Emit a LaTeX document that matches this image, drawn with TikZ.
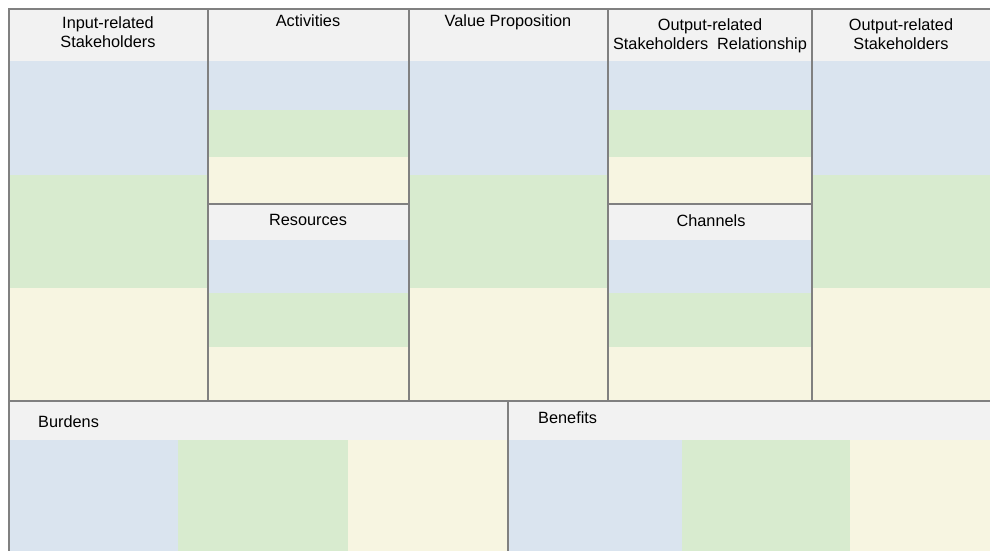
\documentclass[tikz,border=0pt]{standalone}
\usepackage{fontspec}
\setmainfont{Liberation Sans}
\definecolor{hdr}{HTML}{F2F2F2}
\definecolor{bandblue}{HTML}{DAE4EF}
\definecolor{bandgreen}{HTML}{D8EBCF}
\definecolor{bandyellow}{HTML}{F7F5E1}
\definecolor{rule}{HTML}{808080}
\tikzset{
  hdrfill/.style={fill=hdr},
  bluefill/.style={fill=bandblue},
  greenfill/.style={fill=bandgreen},
  yellowfill/.style={fill=bandyellow},
  gridline/.style={draw=rule, line width=2.4pt, line cap=rect},
  title/.style={font=\fontsize{16.3}{19}\selectfont, align=center, inner sep=0pt, anchor=base},
  lefttitle/.style={font=\fontsize{16.3}{19}\selectfont, inner sep=0pt, anchor=base west}
}
\begin{document}
\begin{tikzpicture}[x=1pt, y=-1pt]
  \useasboundingbox (0,0) rectangle (990,551);
  \fill[white] (0,0) rectangle (990,551);

  % tall columns: header, then three equal bands
  \foreach \xa/\xb in {9/208, 409/608, 812/990} {
    \path[hdrfill]    (\xa,9)   rectangle (\xb,61);
    \path[bluefill]   (\xa,61)  rectangle (\xb,175);
    \path[greenfill]  (\xa,175) rectangle (\xb,288);
    \path[yellowfill] (\xa,288) rectangle (\xb,401);
  }
  % split columns: two stacked boxes
  \foreach \xa/\xb in {208/409, 608/812} {
    \path[hdrfill]    (\xa,9)   rectangle (\xb,61);
    \path[bluefill]   (\xa,61)  rectangle (\xb,110);
    \path[greenfill]  (\xa,110) rectangle (\xb,157);
    \path[yellowfill] (\xa,157) rectangle (\xb,204);
    \path[hdrfill]    (\xa,204) rectangle (\xb,240);
    \path[bluefill]   (\xa,240) rectangle (\xb,293);
    \path[greenfill]  (\xa,293) rectangle (\xb,347);
    \path[yellowfill] (\xa,347) rectangle (\xb,401);
  }
  % lower row
  \path[hdrfill] (9,401) rectangle (990,440);
  \path[bluefill]   (9,440)   rectangle (178,551);
  \path[greenfill]  (178,440) rectangle (348,551);
  \path[yellowfill] (348,440) rectangle (508,551);
  \path[bluefill]   (508,440) rectangle (682,551);
  \path[greenfill]  (682,440) rectangle (850,551);
  \path[yellowfill] (850,440) rectangle (990,551);

  % grid lines
  \path[gridline] (9,551) -- (9,9) -- (990,9);
  \path[gridline] (208,9) -- (208,401);
  \path[gridline] (409,9) -- (409,401);
  \path[gridline] (608,9) -- (608,401);
  \path[gridline] (812,9) -- (812,401);
  \path[gridline] (208,204) -- (409,204);
  \path[gridline] (608,204) -- (812,204);
  \path[gridline] (9,401) -- (990,401);
  \path[gridline] (508,401) -- (508,551);

  % titles (two-line titles are anchored at their last baseline)
  \node[title] (inputs) at (108,48) {Input-related\\Stakeholders};
  \node[title] (activities) at (308,27) {Activities};
  \node[title] (value) at (508,27) {Value Proposition};
  \node[title] (relation) at (710,49) {Output-related\\Stakeholders\ \ Relationship};
  \node[title] (outputs) at (901,49) {Output-related\\Stakeholders};
  \node[title] (resources) at (308,225) {Resources};
  \node[title] (channels) at (711,226) {Channels};
  \node[lefttitle] (burdens) at (38,427) {Burdens};
  \node[lefttitle] (benefits) at (538,423) {Benefits};
\end{tikzpicture}
\end{document}
